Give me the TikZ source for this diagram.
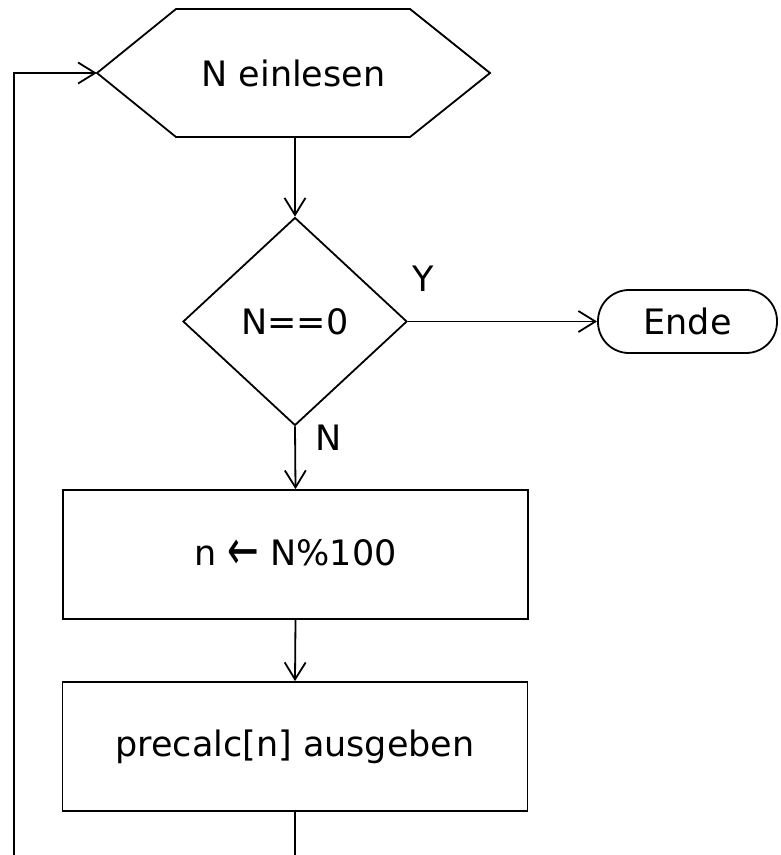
\documentclass[tikz,border=0pt]{standalone}
\usepackage{fontspec}
\setmainfont{DejaVu Sans}
\usetikzlibrary{arrows.meta,shapes.geometric}
\begin{document}
\begin{tikzpicture}[x=1pt,y=-1pt,
  every node/.style={font=\fontsize{35}{41}\selectfont, inner sep=0pt},
  line/.style={line width=1.8pt, line join=miter},
  arr/.style={line, -{Straight Barb[length=17pt,width=21pt,line width=1.8pt]}},
  procbox/.style={draw, line, rectangle, minimum width=465pt, minimum height=129pt},
  decision/.style={draw, line, diamond, minimum width=224pt, minimum height=208pt, aspect=1.077},
  terminal/.style={draw, line, rectangle, rounded corners=31pt, minimum width=179pt, minimum height=63pt},
  lbl/.style={font=\fontsize{35}{41}\selectfont}]
\useasboundingbox (0,0) rectangle (780,855);
\clip (0,0) rectangle (780,855);
\fill[white] (0,0) rectangle (780,855);
% hexagon (input)
\node[minimum width=393pt, minimum height=128pt] (read) at (293.5,73) {N einlesen};
\draw[line] (97,73) -- (176,9) -- (410,9) -- (490,73) -- (410,137) -- (176,137) -- cycle;
\node[decision] (dec) at (295,321.5) {N==0};
\node[terminal] (ende) at (687.5,321.5) {Ende};
\node[procbox] (calc) at (295.5,554.5) {n \raisebox{-4.5pt}{\scalebox{1.08}[1.6]{\symbol{"2190}}} N\%100};
\node[procbox] (out) at (295,746.5) {precalc[n] ausgeben};
\coordinate (bot) at (295,880);
\coordinate (lft) at (14,880);
\draw[arr] (read.south -| dec.north) -- (dec.north);
\draw[arr] (dec.east) -- (ende.west);
\draw[arr] (dec.south) -- (calc.north);
\draw[arr] (calc.south) -- (out.north);
\draw[arr] (out.south) -- (bot) -- (lft) |- (read.west);
\node[lbl] (ylab) at (423,279) {Y};
\node[lbl] (nlab) at (329,438) {N};
\end{tikzpicture}
\end{document}
